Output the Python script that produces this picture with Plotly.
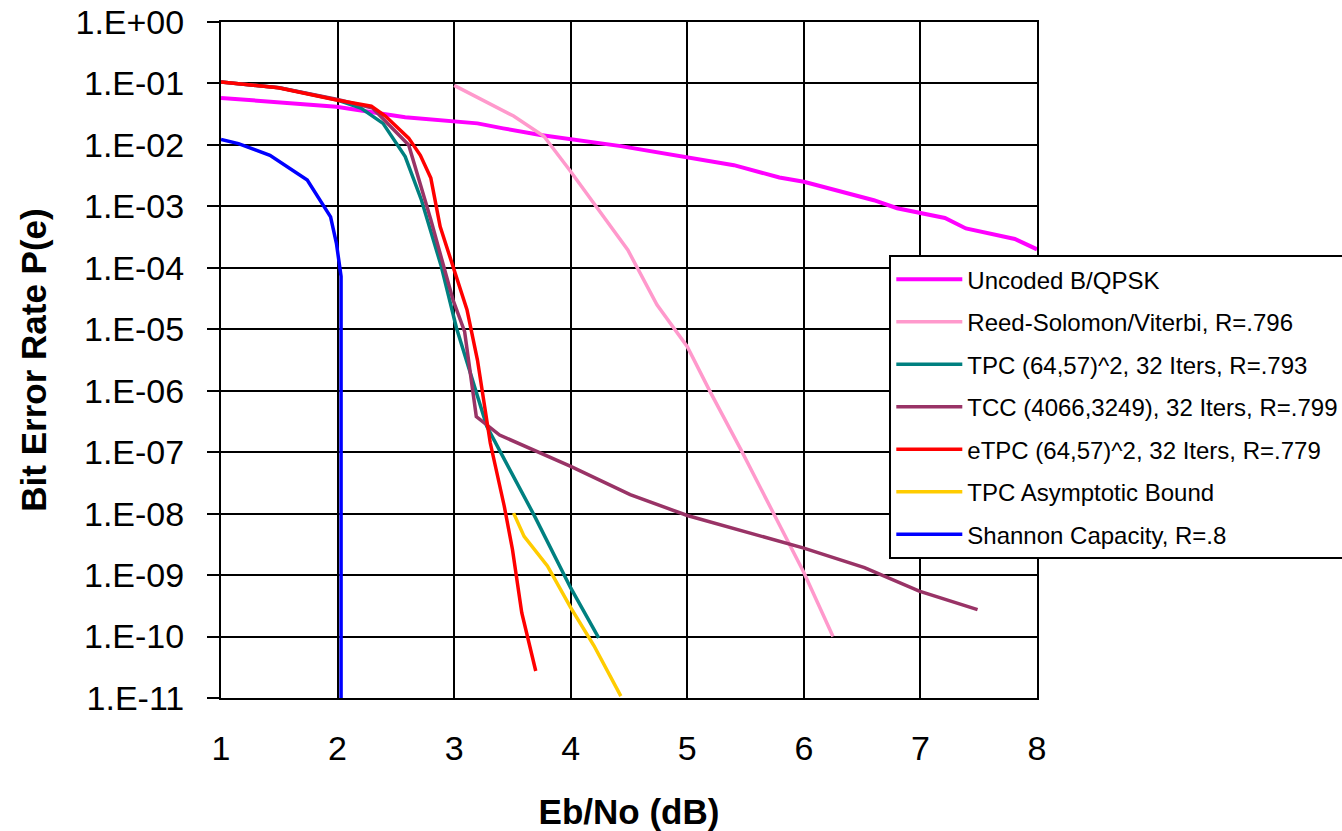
import plotly.graph_objects as go

# ---- data ----
y_tick_vals = [1e0, 1e-1, 1e-2, 1e-3, 1e-4, 1e-5, 1e-6, 1e-7, 1e-8, 1e-9, 1e-10, 1e-11]
y_tick_text = ["1.E+00", "1.E-01", "1.E-02", "1.E-03", "1.E-04", "1.E-05",
               "1.E-06", "1.E-07", "1.E-08", "1.E-09", "1.E-10", "1.E-11"]
x_tick_vals = [1, 2, 3, 4, 5, 6, 7, 8]

uncoded_x = [1.0, 1.5, 1.99, 2.58, 3.2, 3.42, 3.74, 4.43, 5.0, 5.4, 5.79, 6.0, 6.6, 6.8, 7.21, 7.39, 7.81, 8.0]
uncoded_y = [5.82e-2, 4.90e-2, 4.17e-2, 2.82e-2, 2.24e-2, 1.86e-2, 1.45e-2, 9.55e-3, 6.17e-3, 4.68e-3,
             2.95e-3, 2.51e-3, 1.26e-3, 9.33e-4, 6.46e-4, 4.37e-4, 2.95e-4, 2.00e-4]

rs_x = [3.0, 3.27, 3.51, 3.77, 3.99, 4.49, 4.74, 5.0, 5.2, 5.46, 5.74, 6.0, 6.25]
rs_y = [9.3e-2, 5.0e-2, 2.95e-2, 1.38e-2, 3.9e-3, 1.95e-4, 2.5e-5, 5.2e-6, 9.3e-7, 1.1e-7, 1.0e-8, 1.1e-9, 1.0e-10]

tpc_x = [1.0, 1.5, 2.0, 2.2, 2.39, 2.58, 2.72, 2.89, 3.02, 3.28, 3.69, 4.0, 4.24]
tpc_y = [1.06e-1, 8.5e-2, 5.37e-2, 3.98e-2, 2.24e-2, 6.46e-3, 1.26e-3, 1.05e-4, 1.05e-5, 2.63e-7,
         9.12e-9, 6.17e-10, 9.55e-11]

tcc_x = [1.0, 1.5, 2.0, 2.3, 2.61, 2.8, 2.99, 3.09, 3.19, 3.39, 4.0, 4.51, 5.0, 5.52, 6.0, 6.52, 6.99, 7.49]
tcc_y = [1.06e-1, 8.5e-2, 5.5e-2, 3.98e-2, 1.0e-2, 6.03e-4, 3.02e-5, 9.12e-6, 3.8e-7, 1.9e-7,
         5.89e-8, 2.04e-8, 9.33e-9, 5.01e-9, 2.75e-9, 1.32e-9, 5.5e-10, 2.75e-10]

etpc_x = [1.0, 1.49, 1.99, 2.29, 2.41, 2.61, 2.71, 2.80, 2.88, 3.11, 3.20, 3.25, 3.31, 3.43, 3.50, 3.58, 3.70]
etpc_y = [1.06e-1, 8.5e-2, 5.37e-2, 4.27e-2, 2.95e-2, 1.29e-2, 6.76e-3, 2.88e-3, 4.68e-4, 2.09e-5,
          3.16e-6, 7.08e-7, 1.41e-7, 1.32e-8, 2.63e-9, 2.45e-10, 2.75e-11]

bound_x = [3.51, 3.60, 3.80, 4.0, 4.20, 4.43]
bound_y = [1.02e-8, 4.27e-9, 1.41e-9, 2.95e-10, 7.08e-11, 1.07e-11]

shannon_x = [1.0, 1.15, 1.42, 1.74, 1.94, 1.99, 2.03, 2.03]
shannon_y = [1.23e-2, 1.05e-2, 6.76e-3, 2.69e-3, 6.76e-4, 2.51e-4, 7.24e-5, 1e-11]

series = [
    ("Uncoded B/QPSK", uncoded_x, uncoded_y, "#FF00FF", 4),
    ("Reed-Solomon/Viterbi, R=.796", rs_x, rs_y, "#FF99CC", 3.5),
    ("TPC (64,57)^2, 32 Iters, R=.793", tpc_x, tpc_y, "#008080", 3.5),
    ("TCC (4066,3249), 32 Iters, R=.799", tcc_x, tcc_y, "#993366", 3.5),
    ("eTPC (64,57)^2, 32 Iters, R=.779", etpc_x, etpc_y, "#FF0000", 3.5),
    ("TPC Asymptotic Bound", bound_x, bound_y, "#FFCC00", 3.5),
    ("Shannon Capacity, R=.8", shannon_x, shannon_y, "#0000FF", 3.5),
]

FONT = "Liberation Sans, Arial, sans-serif"

fig = go.Figure()
for i, (name, xs, ys, color, w) in enumerate(series):
    fig.add_trace(go.Scatter(x=xs, y=ys, mode="lines", name=name, legendgroup=f"g{i}",
                             line=dict(color=color, width=w)))

fig.update_layout(
    width=1342, height=831,
    margin=dict(l=221, r=305, t=22, b=133, autoexpand=False),
    paper_bgcolor="white", plot_bgcolor="white",
    font=dict(family=FONT, color="black"),
    showlegend=True,
    legend=dict(
        x=0.819, y=0.655, xanchor="left", yanchor="top",
        bgcolor="white", bordercolor="black", borderwidth=2,
        font=dict(family=FONT, size=24, color="black"),
        tracegroupgap=8.3, itemwidth=66,
    ),
    xaxis=dict(
        range=[1, 8], tickmode="array", tickvals=x_tick_vals,
        showgrid=True, gridcolor="black", gridwidth=1.5,
        showline=True, linecolor="black", linewidth=2, mirror=True,
        ticks="", zeroline=False, automargin=False,
        tickfont=dict(family=FONT, size=34, color="black"),
        ticklabelstandoff=19,
        title=dict(text="<b>Eb/No (dB)</b>", font=dict(family=FONT, size=35, color="black"), standoff=43),
    ),
    xaxis2=dict(
        range=[1, 8], overlaying="x", side="top", anchor="y",
        tickmode="linear", tick0=1, dtick=0.5,
        ticks="outside", ticklen=10, tickwidth=2, tickcolor="black",
        showticklabels=False, showgrid=False, zeroline=False, showline=False,
    ),
    yaxis=dict(
        type="log", range=[-11, 0], tickmode="array",
        tickvals=y_tick_vals, ticktext=y_tick_text,
        showgrid=True, gridcolor="black", gridwidth=1.5,
        showline=True, linecolor="black", linewidth=2, mirror=True,
        ticks="outside", ticklen=12, tickwidth=2, tickcolor="black",
        zeroline=False, automargin=False,
        tickfont=dict(family=FONT, size=34, color="black"),
        ticklabelstandoff=16,
        title=dict(text="<b>Bit Error Rate P(e)</b>", font=dict(family=FONT, size=35, color="black"), standoff=18),
    ),
)

fig.write_html("out.html")
